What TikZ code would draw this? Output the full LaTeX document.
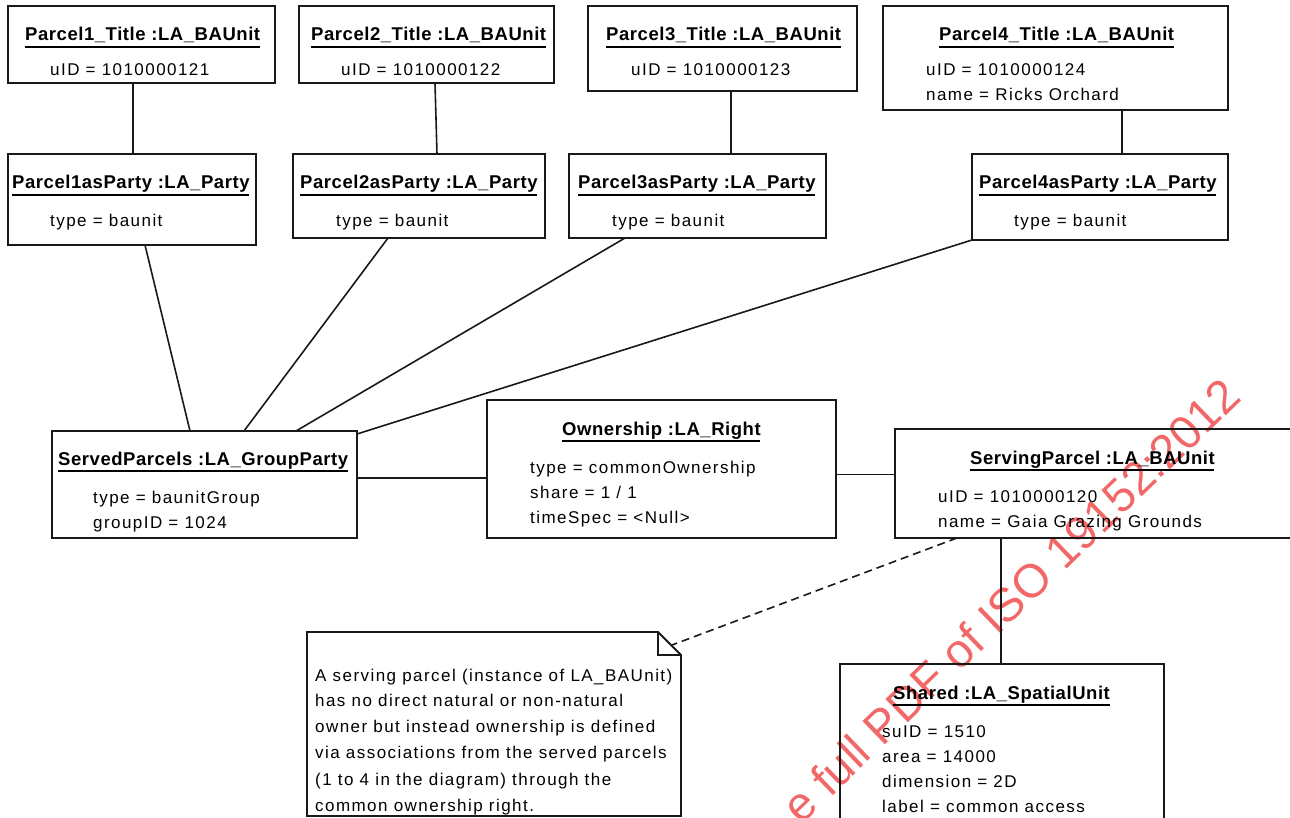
\documentclass[tikz,border=0pt]{standalone}
\usepackage{fontspec}
\setmainfont{Liberation Sans}
\newfontfamily\ttlfont{Liberation Sans}[LetterSpace=3]
\newfontfamily\atrfont{Liberation Sans}[LetterSpace=8.5]
\usetikzlibrary{calc}
\definecolor{wmred}{RGB}{242,104,104}
\definecolor{ink}{RGB}{25,25,25}
\tikzset{
  objbox/.style={draw=ink, line width=1.9pt, inner sep=0pt, outer sep=0pt, anchor=north west},
  ghost/.style={inner sep=0pt, outer sep=0pt, anchor=north west},
  ttl/.style={inner sep=0pt, anchor=base west, font=\ttlfont\bfseries\fontsize{18.5}{20}\selectfont},
  atr/.style={inner sep=0pt, anchor=base west, font=\atrfont\fontsize{17}{20}\selectfont},
  uline/.style={line width=1.7pt, draw=black},
  conn/.style={draw=ink, line width=1.6pt},
  dconn/.style={draw=ink, line width=1.6pt, dash pattern=on 8pt off 5pt},
  wmark/.style={text=wmred, rotate=44, inner sep=0pt, font=\fontsize{47}{47}\selectfont}
}
\begin{document}
\begin{tikzpicture}[x=1pt,y=-1pt]
\useasboundingbox (0,0) rectangle (1290,818);
% watermark (behind)
\node[wmark] (wm) at (1011,600) {e full PDF of ISO 19152:2012};

% boxes
\node[objbox, minimum width=267pt, minimum height=77pt] (p1t) at (8,6) {};
\node[objbox, minimum width=255pt, minimum height=77pt] (p2t) at (299,6) {};
\node[objbox, minimum width=269pt, minimum height=85pt] (p3t) at (588,6) {};
\node[objbox, minimum width=345pt, minimum height=104pt] (p4t) at (883,6) {};
\node[objbox, minimum width=248pt, minimum height=91pt] (p1p) at (8,154) {};
\node[objbox, minimum width=252pt, minimum height=84pt] (p2p) at (293,154) {};
\node[objbox, minimum width=257pt, minimum height=84pt] (p3p) at (569,154) {};
\node[objbox, minimum width=256pt, minimum height=86pt] (p4p) at (972,154) {};
\node[objbox, minimum width=305pt, minimum height=107pt] (served) at (52,431) {};
\node[objbox, minimum width=349pt, minimum height=138pt] (own) at (487,400) {};
\node[objbox, minimum width=415pt, minimum height=109pt] (serving) at (895,429) {};
\node[objbox, minimum width=324pt, minimum height=176pt] (shared) at (840,664) {};
\node[ghost, minimum width=374pt, minimum height=184pt] (note) at (307,632) {};

% note outline with folded corner
\draw[draw=ink, line width=1.9pt, line join=miter]
  (note.north west) -- ($(note.north east)+(-23,0)$) -- ($(note.north east)+(0,23)$)
  -- (note.south east) -- (note.south west) -- cycle;
\draw[draw=ink, line width=1.9pt]
  ($(note.north east)+(-23,0)$) -- ($(note.north east)+(-23,23)$) -- ($(note.north east)+(0,23)$);

% titles
\node[ttl] (p1tT) at (25,41) {Parcel1\_Title :LA\_BAUnit};
\node[ttl] (p2tT) at (311,41) {Parcel2\_Title :LA\_BAUnit};
\node[ttl] (p3tT) at (606,41) {Parcel3\_Title :LA\_BAUnit};
\node[ttl] (p4tT) at (939,41) {Parcel4\_Title :LA\_BAUnit};
\node[ttl] (p1pT) at (12,189) {Parcel1asParty :LA\_Party};
\node[ttl] (p2pT) at (300,189) {Parcel2asParty :LA\_Party};
\node[ttl] (p3pT) at (578,189) {Parcel3asParty :LA\_Party};
\node[ttl] (p4pT) at (979,189) {Parcel4asParty :LA\_Party};
\node[ttl] (servedT) at (58,465) {ServedParcels :LA\_GroupParty};
\node[ttl] (ownT) at (562,435) {Ownership :LA\_Right};
\node[ttl] (servingT) at (970,464) {ServingParcel :LA\_BAUnit};
\node[ttl] (sharedT) at (893,699) {Shared :LA\_SpatialUnit};
\foreach \t in {p1tT,p2tT,p3tT,p4tT,p1pT,p2pT,p3pT,p4pT,servedT,ownT,servingT,sharedT}
  \draw[uline] ($(\t.base west)+(0,6)$) -- ($(\t.base east)+(-0.5,6)$);

% attributes
\node[atr] (p1tA) at (50,76) {uID = 1010000121};
\node[atr] (p2tA) at (341,76) {uID = 1010000122};
\node[atr] (p3tA) at (631,76) {uID = 1010000123};
\node[atr] (p4tA) at (926,76) {uID = 1010000124};
\node[atr] (p4tB) at (926,101) {name = Ricks Orchard};
\node[atr] (p1pA) at (50,227) {type = baunit};
\node[atr] (p2pA) at (336,227) {type = baunit};
\node[atr] (p3pA) at (612,227) {type = baunit};
\node[atr] (p4pA) at (1014,227) {type = baunit};
\node[atr] (servedA) at (93,503) {type = baunitGroup};
\node[atr] (servedB) at (93,528) {groupID = 1024};
\node[atr] (ownA) at (530,473) {type = commonOwnership};
\node[atr] (ownB) at (530,498) {share = 1 / 1};
\node[atr] (ownC) at (530,523) {timeSpec = <Null>};
\node[atr] (servingA) at (938,502) {uID = 1010000120};
\node[atr] (servingB) at (938,527) {name = Gaia Grazing Grounds};
\node[atr] (sharedA) at (882,737) {suID = 1510};
\node[atr] (sharedB) at (882,762) {area = 14000};
\node[atr] (sharedC) at (882,787) {dimension = 2D};
\node[atr] (sharedD) at (882,812) {label = common access};

% note text
\node[atr] (noteA) at (315,681) {A serving parcel (instance of LA\_BAUnit)};
\node[atr] (noteB) at (315,706) {has no direct natural or non-natural};
\node[atr] (noteC) at (315,732) {owner but instead ownership is defined};
\node[atr] (noteD) at (315,758) {via associations from the served parcels};
\node[atr] (noteE) at (315,785) {(1 to 4 in the diagram) through the};
\node[atr] (noteF) at (315,811) {common ownership right.};

% connectors
\draw[conn] ($(p1t.south west)+(125,0)$) -- ($(p1p.north west)+(125,0)$);
\draw[conn] ($(p2t.south west)+(136,0)$) -- ($(p2p.north west)+(144,0)$);
\draw[conn] ($(p3t.south west)+(143,0)$) -- ($(p3p.north west)+(162,0)$);
\draw[conn] ($(p4t.south west)+(239,0)$) -- ($(p4p.north west)+(150,0)$);
\draw[conn] ($(p1p.south west)+(137,0)$) -- ($(served.north west)+(138,0)$);
\draw[conn] ($(p2p.south west)+(95,0)$) -- ($(served.north west)+(192,0)$);
\draw[conn] ($(p3p.south west)+(56,0)$) -- ($(served.north west)+(244,0)$);
\draw[conn] (p4p.south west) -- ($(served.north east)+(0,3)$);
\draw[conn] ($(served.north east)+(0,47)$) -- ($(own.north west)+(0,78)$);
\draw[conn] ($(own.north east)+(0,74.5)$) -- ($(serving.north west)+(0,45.5)$);
\draw[conn] ($(serving.south west)+(106,0)$) -- ($(shared.north west)+(161,0)$);
\draw[dconn] ($(serving.south west)+(62,0)$) -- ($(note.north east)+(-9,13)$);
\end{tikzpicture}
\end{document}
